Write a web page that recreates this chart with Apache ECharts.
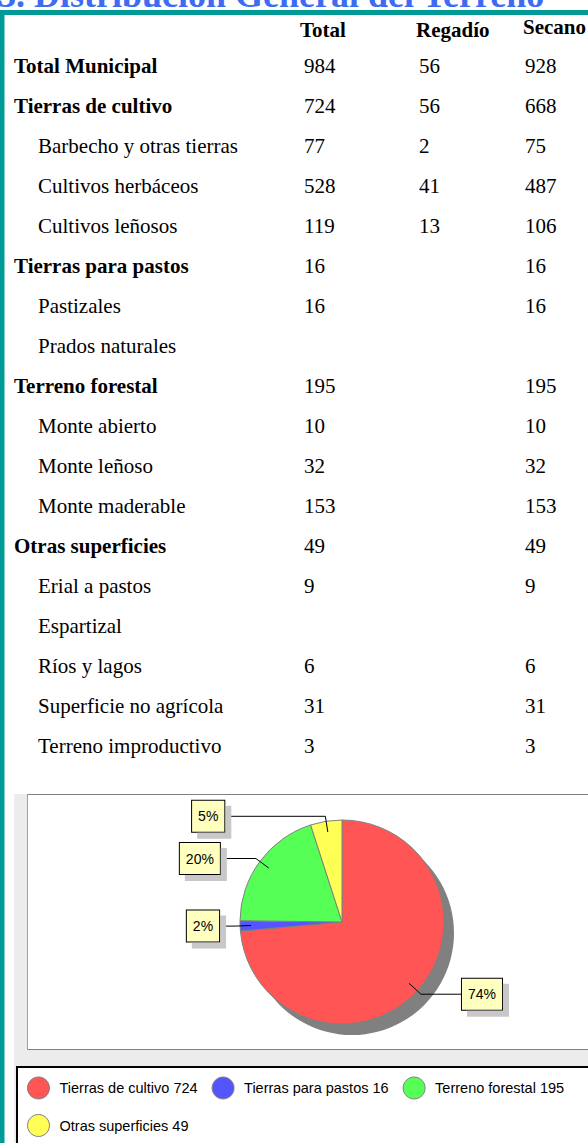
<!DOCTYPE html>
<html>
<head>
<meta charset="utf-8">
<script src="https://cdn.jsdelivr.net/npm/echarts@6/dist/echarts.min.js"></script>
<style>
html, body { margin: 0; padding: 0; background: #ffffff; }
#c { width: 588px; height: 1143px; }
</style>
</head>
<body>
<div id="c"></div>
<script>
// ---------- DATA ----------
const chartTitle = '3. Distribución General del Terreno';
const colHeaders = ['Total', 'Regadío', 'Secano'];
const rowLabels = [
  'Total Municipal', 'Tierras de cultivo', 'Barbecho y otras tierras', 'Cultivos herbáceos',
  'Cultivos leñosos', 'Tierras para pastos', 'Pastizales', 'Prados naturales',
  'Terreno forestal', 'Monte abierto', 'Monte leñoso', 'Monte maderable',
  'Otras superficies', 'Erial a pastos', 'Espartizal', 'Ríos y lagos',
  'Superficie no agrícola', 'Terreno improductivo'
];
const rowLevel = [0, 0, 1, 1, 1, 0, 1, 1, 0, 1, 1, 1, 0, 1, 1, 1, 1, 1];
const totalValues   = [984, 724, 77, 528, 119, 16, 16, null, 195, 10, 32, 153, 49, 9, null, 6, 31, 3];
const regadioValues = [56, 56, 2, 41, 13, null, null, null, null, null, null, null, null, null, null, null, null, null];
const secanoValues  = [928, 668, 75, 487, 106, 16, 16, null, 195, 10, 32, 153, 49, 9, null, 6, 31, 3];

const pieCategories = ['Tierras de cultivo', 'Tierras para pastos', 'Terreno forestal', 'Otras superficies'];
const pieValues = [724, 16, 195, 49];

// ---------- STYLE ----------
const pieColors = ['#ff5555', '#5555ff', '#55ff55', '#ffff55'];
const serif = '"Liberation Serif", "Times New Roman", serif';
const sans = '"Liberation Sans", Arial, sans-serif';
const teal = '#009a97';

const chart = echarts.init(document.getElementById('c'), null, { renderer: 'svg', width: 588, height: 1143 });

const graphics = [];
// panels (drawn first, underneath)
graphics.push({ type: 'rect', silent: true, z: -10, shape: { x: 14, y: 794, width: 580, height: 360 }, style: { fill: '#ececec' } });
graphics.push({ type: 'rect', silent: true, z: -9, shape: { x: 27.5, y: 794.5, width: 580, height: 255 }, style: { fill: '#ffffff', stroke: '#808080', lineWidth: 1 } });
graphics.push({ type: 'rect', silent: true, z: -9, shape: { x: 27, y: 795, width: 1, height: 254 }, style: { fill: '#a0a0a0' } });
graphics.push({ type: 'rect', silent: true, z: -9, shape: { x: 17, y: 1067, width: 580, height: 90 }, style: { fill: '#ffffff', stroke: '#000000', lineWidth: 2 } });
// frame
graphics.push({ type: 'rect', silent: true, shape: { x: 0, y: 10, width: 588, height: 5 }, style: { fill: teal } });
graphics.push({ type: 'rect', silent: true, shape: { x: 0, y: 10, width: 4.5, height: 1133 }, style: { fill: teal } });
// title (cut off at top)
graphics.push({ type: 'text', silent: true, x: -2, y: -5, style: { text: chartTitle, font: 'bold 36px ' + serif, fill: '#3d6cf2', verticalAlign: 'middle' } });

// table header
const headerX = [300, 416, 523];
const headerY = [29.5, 29.5, 26.5];
colHeaders.forEach((h, i) => {
  graphics.push({ type: 'text', silent: true, x: headerX[i], y: headerY[i], style: { text: h, font: 'bold 21px ' + serif, fill: '#000', verticalAlign: 'middle' } });
});
// table rows
const valueX = [304, 419, 525];
const columns = [totalValues, regadioValues, secanoValues];
rowLabels.forEach((lab, r) => {
  const y = 65.7 + 40 * r;
  const bold = rowLevel[r] === 0;
  graphics.push({ type: 'text', silent: true, x: bold ? 14 : 38, y: y, style: { text: lab, font: (bold ? 'bold ' : '') + '21px ' + serif, fill: '#000', verticalAlign: 'middle' } });
  columns.forEach((col, c) => {
    if (col[r] !== null && col[r] !== undefined) {
      graphics.push({ type: 'text', silent: true, x: valueX[c], y: y, style: { text: String(col[r]), font: '21px ' + serif, fill: '#000', verticalAlign: 'middle' } });
    }
  });
});

const pieTotal = pieValues.reduce((a, b) => a + b, 0);
const labelLead = [41, 16, 36, 101];
const pieCenter = [342, 922];

const legendCommon = {
  orient: 'horizontal', left: 27, padding: 0, itemWidth: 32, itemHeight: 22, itemGap: 14,
  icon: 'circle', selectedMode: false,
  itemStyle: { borderColor: '#808080', borderWidth: 1 },
  textStyle: { fontFamily: sans, fontSize: 14.5, color: '#000' },
  formatter: name => name + ' ' + pieValues[pieCategories.indexOf(name)]
};

chart.setOption({
  animation: false,
  graphic: { elements: graphics },
  legend: [
    Object.assign({}, legendCommon, { top: 1076.5, data: pieCategories.slice(0, 3) }),
    Object.assign({}, legendCommon, { top: 1114, data: pieCategories.slice(3) })
  ],
  series: [
    {
      type: 'pie', name: 'sombra', silent: true, z: 1,
      center: [pieCenter[0] + 10, pieCenter[1] + 11], radius: 102,
      data: [{ name: 'sombra', value: pieTotal }],
      itemStyle: { color: '#808080', borderWidth: 0 },
      label: { show: false }, labelLine: { show: false }
    },
    {
      type: 'pie', name: 'Distribución', silent: true, z: 2,
      center: pieCenter, radius: 102, startAngle: 90, clockwise: true,
      data: pieCategories.map((n, i) => ({ name: n, value: pieValues[i], itemStyle: { color: pieColors[i] } })),
      itemStyle: { borderColor: '#808080', borderWidth: 1 },
      label: { show: false }, labelLine: { show: false }
    },
    {
      type: 'pie', name: 'etiquetas', silent: true, z: 3,
      center: pieCenter, radius: 91, startAngle: 90, clockwise: true,
      avoidLabelOverlap: false,
      data: pieCategories.map((n, i) => ({ name: n, value: pieValues[i], labelLine: { length2: labelLead[i] } })),
      itemStyle: { color: 'rgba(0,0,0,0)', borderWidth: 0 },
      label: {
        show: true, position: 'outside',
        formatter: p => Math.round(p.percent) + '%',
        fontFamily: sans, fontSize: 14, lineHeight: 17, color: '#000',
        backgroundColor: '#ffffc0', borderColor: '#000', borderWidth: 1,
        padding: [7, 6, 7, 6],
        shadowColor: '#c8c8c8', shadowOffsetX: 6, shadowOffsetY: 6, shadowBlur: 0,
        distanceToLabelLine: 0
      },
      labelLine: { show: true, length: 16, smooth: false, lineStyle: { color: '#000', width: 1 } }
    }
  ]
});
</script>
</body>
</html>
